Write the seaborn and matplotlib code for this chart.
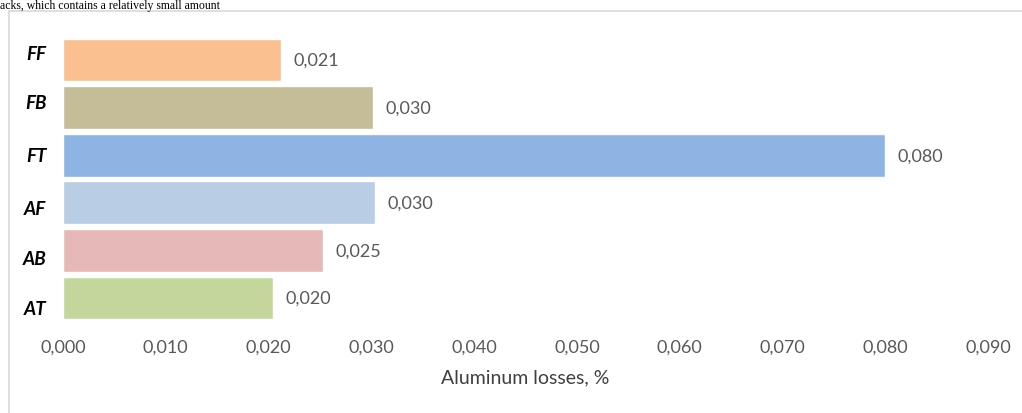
import matplotlib
matplotlib.use("Agg")
import matplotlib.pyplot as plt
import matplotlib.transforms as mtransforms
from matplotlib.lines import Line2D
from matplotlib.ticker import FuncFormatter, MultipleLocator
import seaborn as sns
import pandas as pd

categories = ["FF", "FB", "FT", "AF", "AB", "AT"]
values = [0.0212, 0.0302, 0.0800, 0.0304, 0.0253, 0.0204]
colors = ["#FAC090", "#C4BD97", "#8DB4E2", "#B9CDE5", "#E6B9B8", "#C3D69B"]
x_label = "Aluminum losses, %"
top_text = "acks, which contains a relatively small amount"

sns.set_theme(style="white")
plt.rcParams["font.family"] = ["Lato", "DejaVu Sans"]

W, H = 1022, 414
fig = plt.figure(figsize=(W / 100, H / 100), dpi=100)
ax = fig.add_axes([63 / W, 91.2 / H, 925 / W, 285.6 / H])

df = pd.DataFrame({"cat": categories, "val": values})
sns.barplot(data=df, x="val", y="cat", hue="cat", palette=colors,
            order=categories, hue_order=categories, legend=False,
            width=0.9, orient="h", ax=ax, saturation=1)

ax.set_xlim(0, 0.09)
ax.set_ylim(5.5, -0.5)
ax.xaxis.set_major_locator(MultipleLocator(0.01))
fmt = lambda v, p=None: f"{v:.3f}".replace(".", ",")
ax.xaxis.set_major_formatter(FuncFormatter(fmt))
for s in ax.spines.values():
    s.set_visible(False)
ax.tick_params(axis="x", length=0, pad=12, labelsize=13, labelcolor="#595959")
ax.tick_params(axis="y", length=0, pad=12)
ax.set_ylabel("")
ax.set_xlabel(x_label, fontsize=14, color="#404040", labelpad=10)
for lab in ax.get_yticklabels():
    lab.set_fontweight("bold")
    lab.set_fontstyle("italic")
    lab.set_fontsize(13.5)
    lab.set_color("black")

offsets = [-8, -7, -1, 4, 7, 9]
for lab, off in zip(ax.get_yticklabels(), offsets):
    lab.set_transform(lab.get_transform() +
                      mtransforms.ScaledTranslation(0, -off / 100, fig.dpi_scale_trans))

for cont in ax.containers:
    ax.bar_label(cont, fmt=lambda v: f"{v:.3f}".replace(".", ","), padding=9,
                 fontsize=13, color="#595959")

# chart frame (light grey border)
fig.add_artist(Line2D([8.5 / W, 8.5 / W], [0, 1 - 12 / H], transform=fig.transFigure,
                      color="#D9D9D9", lw=1.2))
fig.add_artist(Line2D([8.5 / W, 1.0], [1 - 12 / H, 1 - 12 / H], transform=fig.transFigure,
                      color="#D9D9D9", lw=1.2))

# page text above chart
fig.text(0 / W, 1 - 8.5 / H, top_text, family=["Liberation Serif", "DejaVu Serif"],
         fontsize=8.5, color="black", va="baseline", ha="left")

fig.savefig("out.png", dpi=100)
